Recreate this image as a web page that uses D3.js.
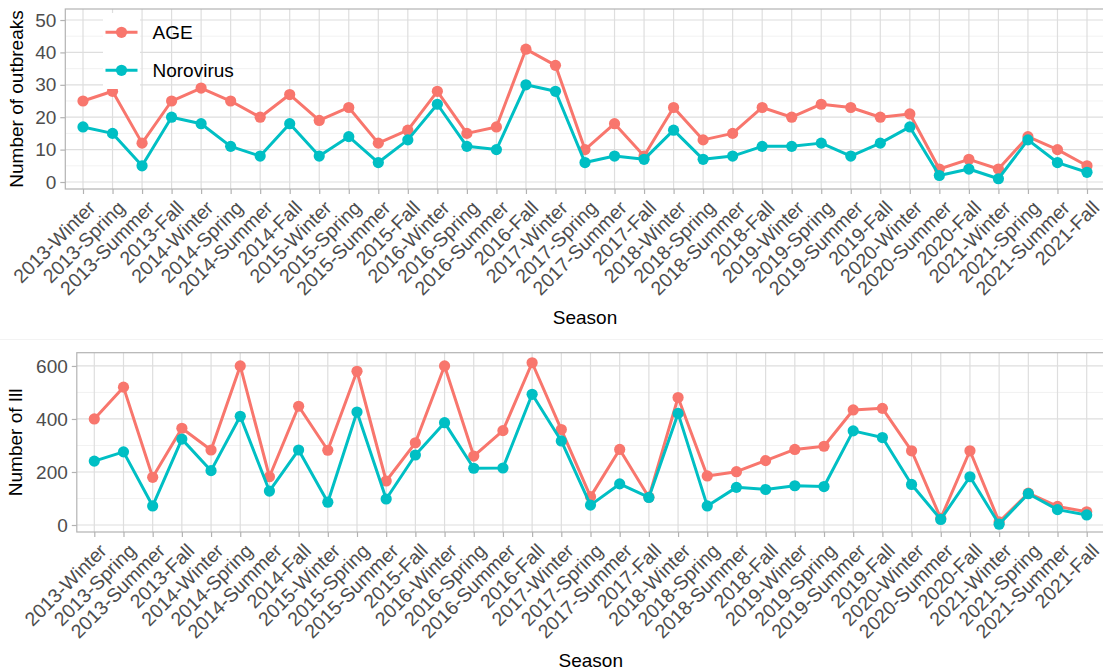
<!DOCTYPE html>
<html>
<head>
<meta charset="utf-8">
<script src="https://cdn.jsdelivr.net/npm/d3@7"></script>
<style>
	body { margin: 0; background: #fff; }
	svg { display: block; font-family: "Liberation Sans", Arial, sans-serif; }
</style>
</head>
<body>
<div class="chart"></div>
<script>
// seasons on the x axis (2020-Spring is missing in the source)
var seasons = [
	'2013-Winter', '2013-Spring', '2013-Summer', '2013-Fall',
	'2014-Winter', '2014-Spring', '2014-Summer', '2014-Fall',
	'2015-Winter', '2015-Spring', '2015-Summer', '2015-Fall',
	'2016-Winter', '2016-Spring', '2016-Summer', '2016-Fall',
	'2017-Winter', '2017-Spring', '2017-Summer', '2017-Fall',
	'2018-Winter', '2018-Spring', '2018-Summer', '2018-Fall',
	'2019-Winter', '2019-Spring', '2019-Summer', '2019-Fall',
	'2020-Winter', '2020-Summer', '2020-Fall',
	'2021-Winter', '2021-Spring', '2021-Summer', '2021-Fall'
];

var seriesNames = ['AGE', 'Norovirus'];
var seriesColors = ['#F8766D', '#00BFC4'];

// number of outbreaks
var outbreaksAGE = [25, 28, 12, 25, 29, 25, 20, 27, 19, 23, 12, 16, 28, 15, 17, 41, 36, 10, 18, 8,
	23, 13, 15, 23, 20, 24, 23, 20, 21, 4, 7, 4, 14, 10, 5];
var outbreaksNoro = [17, 15, 5, 20, 18, 11, 8, 18, 8, 14, 6, 13, 24, 11, 10, 30, 28, 6, 8, 7,
	16, 7, 8, 11, 11, 12, 8, 12, 17, 2, 4, 1, 13, 6, 3];

// number of ill
var illAGE = [400, 520, 180, 365, 283, 600, 182, 448, 282, 580, 166, 310, 600, 260, 356, 612, 360, 107, 285, 105,
	481, 185, 201, 243, 285, 297, 434, 440, 280, 25, 280, 12, 120, 70, 50];
var illNoro = [241, 276, 72, 324, 205, 410, 128, 283, 86, 426, 98, 264, 386, 214, 215, 493, 317, 75, 155, 104,
	421, 72, 142, 134, 148, 145, 355, 330, 153, 21, 182, 3, 118, 58, 38];

var outbreakTicks = [0, 10, 20, 30, 40, 50];
var outbreakMinor = [5, 15, 25, 35, 45];
var illTicks = [0, 200, 400, 600];
var illMinor = [100, 300, 500];

var width = 1103, height = 672;
var svg = d3.select('.chart').append('svg').attr('width', width).attr('height', height);

// faint seam between the two stacked plots
svg.append('line').attr('x1', 0).attr('x2', width).attr('y1', 339.5).attr('y2', 339.5)
	.style('stroke', '#F3F3F3').style('stroke-width', 1);

function drawPanel(opts) {
	var g = svg.append('g');
	var x = d3.scalePoint().domain(seasons).range(opts.xRange);
	var y = d3.scaleLinear().domain(opts.yDomain).range([opts.bottom, opts.top]);
	var left = opts.left, right = opts.right;

	var clipId = 'clip' + opts.id;
	g.append('clipPath').attr('id', clipId).append('rect')
		.attr('x', left).attr('y', opts.top).attr('width', right - left).attr('height', opts.bottom - opts.top);

	// grid
	g.selectAll('.minor').data(opts.minor).enter().append('line')
		.attr('x1', left).attr('x2', right)
		.attr('y1', function(d) { return y(d); }).attr('y2', function(d) { return y(d); })
		.style('stroke', '#EDEDED').style('stroke-width', 0.7);
	g.selectAll('.hmajor').data(opts.ticks).enter().append('line')
		.attr('x1', left).attr('x2', right)
		.attr('y1', function(d) { return y(d); }).attr('y2', function(d) { return y(d); })
		.style('stroke', '#DEDEDE').style('stroke-width', 1.2);
	g.selectAll('.vmajor').data(seasons).enter().append('line')
		.attr('y1', opts.top).attr('y2', opts.bottom)
		.attr('x1', function(d) { return x(d); }).attr('x2', function(d) { return x(d); })
		.style('stroke', '#DEDEDE').style('stroke-width', 1.2);

	var plot = g.append('g').attr('clip-path', 'url(#' + clipId + ')');
	var line = d3.line().x(function(d, i) { return x(seasons[i]); }).y(function(d) { return y(d); });

	opts.series.forEach(function(vals, k) {
		plot.append('path').datum(vals).attr('d', line)
			.style('fill', 'none').style('stroke', seriesColors[k]).style('stroke-width', 3)
			.style('stroke-linejoin', 'round');
		plot.selectAll('.pt' + k).data(vals).enter().append('circle')
			.attr('cx', function(d, i) { return x(seasons[i]); })
			.attr('cy', function(d) { return y(d); })
			.attr('r', 5.6).style('fill', seriesColors[k]);
	});

	// legend: white key boxes drawn over the data (they hide part of a point)
	if (opts.legend) {
		g.append('g').selectAll('rect').data(seriesNames).enter().append('rect')
			.attr('x', 103).attr('y', function(d, i) { return 13 + i * 38; })
			.attr('width', 37).attr('height', 38).style('fill', '#fff');
		var items = g.append('g').selectAll('g').data(seriesNames).enter().append('g')
			.attr('transform', function(d, i) { return 'translate(121.5,' + (32.3 + i * 38) + ')'; });
		items.append('line').attr('x1', -16).attr('x2', 16)
			.style('stroke', function(d, i) { return seriesColors[i]; }).style('stroke-width', 3);
		items.append('circle').attr('r', 5.6).style('fill', function(d, i) { return seriesColors[i]; });
		items.append('text').attr('x', 31).attr('dy', '0.35em').text(function(d) { return d; })
			.style('font-size', '19px').style('fill', '#000');
	}

	// border
	g.append('rect').attr('x', left).attr('y', opts.top)
		.attr('width', right - left).attr('height', opts.bottom - opts.top)
		.style('fill', 'none').style('stroke', '#B3B3B3').style('stroke-width', 1.2);

	// y axis
	var yAxis = g.append('g').attr('transform', 'translate(' + left + ',0)')
		.call(d3.axisLeft(y).tickValues(opts.ticks).tickSize(5).tickPadding(4).tickFormat(d3.format('d')));
	yAxis.select('.domain').remove();
	yAxis.selectAll('line').style('stroke', '#B3B3B3').style('stroke-width', 1.2);
	yAxis.selectAll('text').style('font-size', '19px').style('fill', '#4D4D4D').attr('font-family', null);

	// x axis, labels at 45 degrees
	var xAxis = g.append('g').attr('transform', 'translate(0,' + opts.bottom + ')')
		.call(d3.axisBottom(x).tickSize(5).tickPadding(0));
	xAxis.select('.domain').remove();
	xAxis.selectAll('line').style('stroke', '#B3B3B3').style('stroke-width', 1.2);
	xAxis.selectAll('text')
		.attr('y', null).attr('dy', '0.95em')
		.attr('transform', 'translate(0,7) rotate(-45)')
		.style('text-anchor', 'end').style('font-size', '19.5px').style('fill', '#4D4D4D')
		.attr('font-family', null);

	// titles
	g.append('text').attr('x', (left + right) / 2).attr('y', opts.xTitleY)
		.style('text-anchor', 'middle').style('font-size', '19px').style('fill', '#000').text('Season');
	g.append('text').attr('transform', 'translate(' + opts.yTitleX + ',' + (opts.top + opts.bottom) / 2 + ') rotate(-90)')
		.style('text-anchor', 'middle').style('font-size', '19px').style('fill', '#000').text(opts.yTitle);
}

drawPanel({
	id: 'top', left: 65.3, right: 1104.7, top: 9, bottom: 189,
	xRange: [83, 1087], yDomain: [-2.16, 53.4],
	ticks: outbreakTicks, minor: outbreakMinor,
	series: [outbreaksAGE, outbreaksNoro],
	yTitle: 'Number of outbreaks', yTitleX: 23, xTitleY: 324, legend: true
});

drawPanel({
	id: 'bottom', left: 76.8, right: 1104.7, top: 352.7, bottom: 532,
	xRange: [94.3, 1086.7], yDomain: [-26.4, 650],
	ticks: illTicks, minor: illMinor,
	series: [illAGE, illNoro],
	yTitle: 'Number of Ill', yTitleX: 22, xTitleY: 667, legend: false
});
</script>
</body>
</html>
